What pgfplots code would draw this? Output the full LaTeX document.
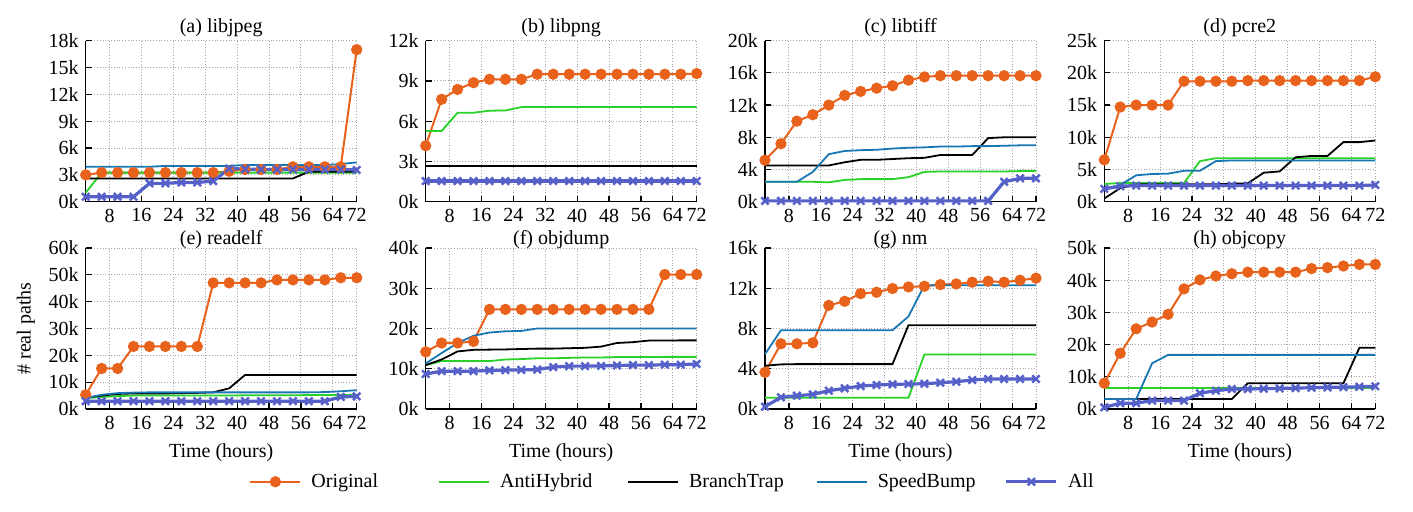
\documentclass[border=0pt]{standalone}
\usepackage{fontspec}
\setmainfont{Liberation Serif}
\usepackage{pgfplots}
\usepackage{pgfplotstable}
\pgfplotsset{compat=1.18}

\definecolor{corig}{RGB}{232,98,28}
\definecolor{canti}{RGB}{40,210,40}
\definecolor{cspeed}{RGB}{24,118,178}
\definecolor{call}{RGB}{85,96,200}

% values in thousands of real paths
\pgfplotstableread{
x  o     a     b     s     l
2  3.0   1.0   2.6   3.9   0.55
6  3.25  3.25  2.6   3.9   0.55
10 3.25  3.25  2.6   3.9   0.55
14 3.25  3.25  2.6   3.9   0.55
18 3.25  3.25  2.6   3.9   2.05
22 3.25  3.25  2.6   4.0   2.05
26 3.25  3.25  2.6   4.0   2.15
30 3.25  3.25  2.6   4.0   2.15
34 3.25  3.25  2.6   4.0   2.3
38 3.4   3.25  2.6   4.0   3.7
42 3.6   3.25  2.6   4.1   3.65
46 3.6   3.25  2.6   4.1   3.6
50 3.6   3.25  2.6   4.1   3.6
54 3.9   3.25  2.6   4.1   3.6
58 3.9   3.25  3.35  4.1   3.6
62 3.9   3.25  3.35  4.1   3.6
66 3.9   3.25  3.35  4.2   3.6
70 17.0  3.25  3.35  4.4   3.55
}\tA
\pgfplotstableread{
x  o     a     b     s     l
2  4.17  5.27  2.68  1.54  1.54
6  7.63  5.27  2.68  1.54  1.54
10 8.37  6.63  2.68  1.54  1.54
14 8.87  6.63  2.68  1.54  1.54
18 9.12  6.78  2.68  1.54  1.54
22 9.12  6.8   2.68  1.54  1.54
26 9.12  7.05  2.68  1.54  1.54
30 9.5   7.05  2.68  1.54  1.54
34 9.5   7.05  2.68  1.54  1.54
38 9.5   7.05  2.68  1.54  1.54
42 9.5   7.05  2.68  1.54  1.54
46 9.5   7.05  2.68  1.54  1.54
50 9.5   7.05  2.68  1.54  1.54
54 9.5   7.05  2.68  1.54  1.54
58 9.5   7.05  2.68  1.54  1.54
62 9.5   7.05  2.68  1.54  1.54
66 9.5   7.05  2.68  1.54  1.54
70 9.55  7.05  2.68  1.54  1.54
}\tB
\pgfplotstableread{
x  o     a     b     s     l
2  5.15  2.47  4.5   2.47  0.1
6  7.2   2.47  4.5   2.47  0.1
10 10.0  2.47  4.5   2.47  0.1
14 10.8  2.47  4.5   3.7   0.1
18 12.0  2.4   4.5   5.9   0.1
22 13.2  2.7   4.9   6.3   0.1
26 13.7  2.8   5.2   6.4   0.1
30 14.1  2.8   5.2   6.45  0.1
34 14.4  2.8   5.3   6.6   0.1
38 15.1  3.05  5.4   6.7   0.1
42 15.5  3.7   5.45  6.75  0.1
46 15.65 3.75  5.8   6.85  0.1
50 15.65 3.75  5.8   6.85  0.1
54 15.65 3.75  5.8   6.9   0.1
58 15.65 3.75  7.9   6.9   0.1
62 15.65 3.75  8.0   6.95  2.47
66 15.65 3.8   8.0   7.0   2.9
70 15.65 3.8   8.0   7.0   2.9
}\tC
\pgfplotstableread{
x  o     a     b     s     l
2  6.5   2.75  0.5   2.0   2.0
6  14.7  2.9   2.1   2.6   2.4
10 15.0  2.9   2.7   4.1   2.5
14 15.0  2.9   2.7   4.3   2.5
18 15.0  2.9   2.7   4.35  2.5
22 18.7  2.9   2.7   4.8   2.5
26 18.7  6.3   2.7   4.8   2.5
30 18.7  6.75  2.7   6.3   2.5
34 18.7  6.75  2.8   6.4   2.5
38 18.8  6.75  2.85  6.4   2.5
42 18.8  6.75  4.5   6.4   2.5
46 18.8  6.75  4.7   6.4   2.5
50 18.8  6.75  6.9   6.4   2.5
54 18.8  6.75  7.1   6.4   2.5
58 18.8  6.75  7.1   6.4   2.5
62 18.8  6.75  9.25  6.4   2.5
66 18.8  6.75  9.25  6.4   2.5
70 19.4  6.75  9.5   6.4   2.6
}\tD
\pgfplotstableread{
x  o     a     b     s     l
2  5.3   4.0   4.2   4.0   2.9
6  15.1  4.5   5.0   5.3   2.9
10 15.1  4.8   5.6   5.9   2.9
14 23.3  5.0   5.8   6.1   2.9
18 23.3  5.0   5.8   6.2   2.9
22 23.3  5.0   5.8   6.2   2.9
26 23.3  5.0   5.9   6.2   2.9
30 23.3  5.0   6.0   6.2   2.9
34 47.0  5.0   6.2   6.2   2.9
38 47.0  5.0   7.7   6.2   2.9
42 47.0  5.1   12.7  6.2   2.9
46 47.0  5.1   12.7  6.2   2.9
50 48.1  5.1   12.7  6.2   2.9
54 48.1  5.1   12.7  6.2   2.9
58 48.1  5.2   12.7  6.2   2.9
62 48.1  5.2   12.7  6.3   2.9
66 48.9  5.2   12.7  6.6   4.5
70 48.9  5.3   12.7  7.0   4.7
}\tE
\pgfplotstableread{
x  o     a     b     s     l
2  14.2  10.9  10.9  11.3  8.7
6  16.4  11.9  12.3  13.9  9.4
10 16.4  11.9  14.3  16.4  9.4
14 16.8  11.9  14.7  18.2  9.4
18 24.75 11.9  14.75 19.0  9.6
22 24.75 12.3  14.8  19.3  9.65
26 24.75 12.4  14.9  19.4  9.7
30 24.75 12.6  15.0  20.0  9.8
34 24.75 12.6  15.0  20.0  10.4
38 24.75 12.7  15.1  20.0  10.65
42 24.75 12.8  15.2  20.0  10.65
46 24.75 12.8  15.5  20.0  10.7
50 24.75 12.9  16.4  20.0  10.8
54 24.75 12.9  16.6  20.0  10.9
58 24.75 12.9  17.0  20.0  10.9
62 33.4  12.95 17.0  20.0  11.0
66 33.4  12.95 17.05 20.0  11.0
70 33.4  12.95 17.05 20.0  11.2
}\tF
\pgfplotstableread{
x  o     a     b     s     l
2  3.64  1.12  4.3   5.45  0.23
6  6.48  1.12  4.43  7.83  1.16
10 6.48  1.12  4.46  7.83  1.32
14 6.58  1.12  4.46  7.83  1.45
18 10.3  1.12  4.46  7.83  1.82
22 10.7  1.12  4.46  7.83  2.05
26 11.47 1.12  4.46  7.83  2.28
30 11.6  1.12  4.46  7.83  2.38
34 11.97 1.12  4.46  7.83  2.45
38 12.13 1.12  8.33  9.2   2.48
42 12.2  5.42  8.33  12.3  2.51
46 12.36 5.42  8.33  12.3  2.61
50 12.43 5.42  8.33  12.3  2.71
54 12.6  5.42  8.33  12.3  2.88
58 12.7  5.42  8.33  12.3  2.98
62 12.6  5.42  8.33  12.3  2.98
66 12.8  5.42  8.33  12.3  2.98
70 13.0  5.42  8.33  12.3  2.98
}\tG
\pgfplotstableread{
x  o     a     b     s     l
2  8.0   6.5   3.1   3.1   0.5
6  17.3  6.5   3.1   3.1   1.8
10 24.9  6.5   3.1   3.1   1.8
14 27.0  6.5   3.1   14.2  2.6
18 29.4  6.5   3.1   16.8  2.6
22 37.3  6.5   3.1   16.8  2.6
26 40.1  6.5   3.1   16.8  4.9
30 41.3  6.5   3.1   16.8  5.7
34 42.0  6.5   3.1   16.8  6.2
38 42.5  6.5   8.0   16.8  6.2
42 42.5  6.5   8.0   16.8  6.3
46 42.5  6.5   8.0   16.8  6.4
50 42.5  6.5   8.0   16.8  6.5
54 43.6  6.5   8.0   16.8  6.6
58 43.9  6.5   8.0   16.8  6.7
62 44.4  6.5   8.0   16.8  6.8
66 44.9  6.5   19.0  16.8  6.9
70 44.9  6.5   19.0  16.8  7.05
}\tH

\pgfplotsset{
  sub/.style={
    scale only axis, width=135.5pt, height=80.5pt, anchor=south west,
    xmin=2, xmax=70, ymin=0, clip=false,
    xtick={8,16,24,32,40,48,56,64,70},
    xticklabels={8,16,24,32,40,48,56,64,72},
    axis x line*=bottom, axis y line*=left,
    tick align=inside, major tick length=3pt,
    grid=major, grid style={densely dotted, gray!70, line width=0.45pt},
    tick style={black, line width=0.6pt},
    axis line style={line width=0.6pt},
    /pgf/number format/assume math mode=true,
    yticklabel={\pgfmathprintnumber{\tick}k},
    legend image code/.code={\draw[mark repeat=2,mark phase=2,##1] plot coordinates {(0pt,0pt) (12.5pt,0pt) (25pt,0pt)};},
  },
  toprow/.style={title style={yshift=-7.5pt}},
  botrow/.style={title style={yshift=-10pt}, xlabel={Time (hours)}},
  orig/.style={color=corig, line width=1pt, mark=*, mark size=2.3pt, mark options={solid, fill=corig}},
  anti/.style={color=canti, line width=0.9pt},
  branch/.style={color=black, line width=0.9pt},
  speed/.style={color=cspeed, line width=0.9pt},
  allp/.style={color=call, line width=1.6pt, mark=x, mark size=2.6pt, mark options={solid, line width=1.2pt}},
}

\newcommand{\fiveplots}[1]{%
  \addplot[orig] table[x=x,y=o] {#1};
  \addplot[anti] table[x=x,y=a] {#1};
  \addplot[branch] table[x=x,y=b] {#1};
  \addplot[speed] table[x=x,y=s] {#1};
  \addplot[allp] table[x=x,y=l] {#1};
}

\begin{document}
\begin{tikzpicture}
\path[use as bounding box] (0,0) rectangle (706.5pt,256pt);

\begin{axis}[sub, toprow, at={(42.85pt,155.15pt)}, title={(a) libjpeg}, ymax=18, ytick={0,3,...,18}]
\fiveplots{\tA}
\end{axis}
\begin{axis}[sub, toprow, at={(212.85pt,155.15pt)}, title={(b) libpng}, ymax=12, ytick={0,3,...,12}]
\fiveplots{\tB}
\end{axis}
\begin{axis}[sub, toprow, at={(382.5pt,155.15pt)}, title={(c) libtiff}, ymax=20, ytick={0,4,...,20}]
\fiveplots{\tC}
\end{axis}
\begin{axis}[sub, toprow, at={(552.15pt,155.15pt)}, title={(d) pcre2}, ymax=25, ytick={0,5,...,25}]
\fiveplots{\tD}
\end{axis}

\begin{axis}[sub, botrow, at={(42.85pt,51.5pt)}, title={(e) readelf}, ymax=60, ytick={0,10,...,60},
  ylabel={\# real paths},
  legend columns=5,
  legend style={at={(0.6026,-0.452)}, anchor=west, draw=none, fill=none, inner xsep=0pt,
    /tikz/every odd column/.append style={column sep=3pt},
    /tikz/every even column/.append style={column sep=0pt}}]
\fiveplots{\tE}
\addlegendentry{\makebox[61.5pt][l]{Original}}
\addlegendentry{\makebox[61.5pt][l]{AntiHybrid}}
\addlegendentry{\makebox[61.5pt][l]{BranchTrap}}
\addlegendentry{\makebox[61.5pt][l]{SpeedBump}}
\addlegendentry{All}
\end{axis}
\begin{axis}[sub, botrow, at={(212.85pt,51.5pt)}, title={(f) objdump}, ymax=40, ytick={0,10,...,40}]
\fiveplots{\tF}
\end{axis}
\begin{axis}[sub, botrow, at={(382.5pt,51.5pt)}, title={(g) nm}, ymax=16, ytick={0,4,...,16}]
\fiveplots{\tG}
\end{axis}
\begin{axis}[sub, botrow, at={(552.15pt,51.5pt)}, title={(h) objcopy}, ymax=50, ytick={0,10,...,50}]
\fiveplots{\tH}
\end{axis}
\end{tikzpicture}
\end{document}
